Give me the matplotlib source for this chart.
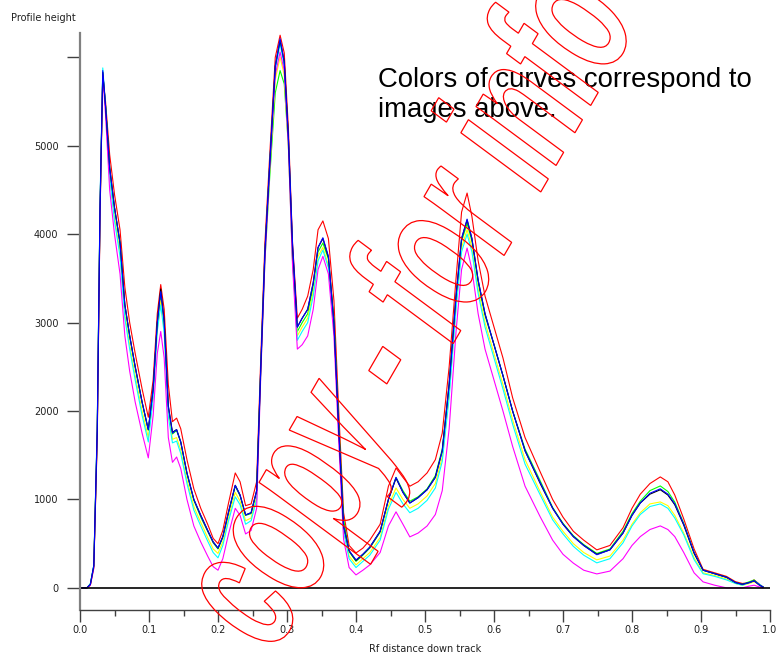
import matplotlib
matplotlib.use('Agg')
import matplotlib.pyplot as plt
from matplotlib.textpath import TextPath
from matplotlib.patches import PathPatch
from matplotlib.font_manager import FontProperties
from matplotlib.transforms import Affine2D
from matplotlib.ticker import MultipleLocator

# Rf positions shared by all profiles
rf = [0.000, 0.010, 0.015, 0.020, 0.025, 0.029, 0.033, 0.037, 0.043, 0.050,
      0.058, 0.065, 0.072, 0.080, 0.090, 0.099, 0.106, 0.112, 0.117, 0.122,
      0.128, 0.134, 0.140, 0.146, 0.155, 0.165, 0.175, 0.185, 0.193, 0.200,
      0.207, 0.215, 0.225, 0.232, 0.240, 0.248, 0.256, 0.262, 0.268, 0.275,
      0.283, 0.290, 0.296, 0.302, 0.308, 0.315, 0.322, 0.330, 0.338, 0.345,
      0.352, 0.360, 0.368, 0.375, 0.382, 0.390, 0.400, 0.410, 0.420, 0.435,
      0.447, 0.458, 0.468, 0.478, 0.490, 0.503, 0.515, 0.525, 0.535, 0.545,
      0.553, 0.561, 0.568, 0.577, 0.587, 0.600, 0.613, 0.627, 0.645, 0.667,
      0.685, 0.700, 0.715, 0.730, 0.749, 0.768, 0.787, 0.800, 0.812, 0.826,
      0.841, 0.852, 0.862, 0.875, 0.890, 0.903, 0.920, 0.937, 0.950, 0.960,
      0.970, 0.977, 0.985, 0.990]

red = [0, 0, 30, 230, 1700, 4200, 5800, 5500, 4900, 4450,
       4050, 3400, 3000, 2650, 2250, 1930, 2350, 3100, 3430, 3150,
       2300, 1880, 1920, 1800, 1450, 1120, 900, 720, 560, 500,
       650, 950, 1300, 1200, 930, 950, 1200, 2600, 3900, 4900,
       6000, 6250, 6050, 5200, 3900, 3050, 3150, 3300, 3600, 4050,
       4150, 3950, 3250, 2000, 850, 480, 395, 450, 540, 720,
       1150, 1356, 1250, 1150, 1200, 1300, 1450, 1750, 2500, 3500,
       4250, 4465, 4200, 3700, 3300, 2950, 2600, 2150, 1700, 1311,
       1000, 800, 640, 540, 430, 480, 680, 900, 1060, 1180,
       1255, 1200, 1050, 780, 440, 210, 170, 130, 70, 50,
       60, 90, 40, 10]

green = [0, 0, 40, 240, 1750, 4250, 5820, 5450, 4750, 4300,
         3900, 3200, 2850, 2500, 2100, 1780, 2230, 2980, 3320, 2980,
         2030, 1740, 1780, 1650, 1290, 990, 800, 640, 510, 440,
         570, 840, 1150, 1040, 820, 840, 1080, 2450, 3700, 4650,
         5600, 5850, 5700, 5000, 3700, 2900, 3000, 3100, 3400, 3800,
         3900, 3720, 3050, 1850, 780, 410, 300, 370, 450, 630,
         1000, 1250, 1100, 980, 1030, 1120, 1270, 1570, 2300, 3280,
         3920, 4120, 3920, 3450, 3080, 2750, 2400, 2000, 1570, 1210,
         910, 730, 590, 490, 390, 440, 640, 840, 980, 1100,
         1153, 1090, 970, 730, 400, 200, 160, 120, 60, 40,
         70, 90, 30, 10]

yellow = [0, 0, 40, 240, 1750, 4250, 5830, 5400, 4650, 4200,
          3800, 3100, 2750, 2400, 2000, 1700, 2180, 2930, 3250, 2920,
          1980, 1680, 1700, 1560, 1220, 920, 740, 570, 440, 390,
          520, 790, 1080, 980, 760, 790, 1030, 2450, 3750, 4750,
          5750, 6000, 5800, 5000, 3750, 2850, 2950, 3050, 3350, 3750,
          3850, 3650, 2950, 1750, 650, 360, 260, 330, 400, 570,
          930, 1130, 1000, 900, 950, 1040, 1180, 1480, 2200, 3200,
          3850, 4050, 3850, 3380, 3000, 2650, 2300, 1900, 1450, 1085,
          800, 640, 500, 400, 317, 360, 540, 720, 850, 950,
          972, 930, 820, 620, 340, 170, 140, 100, 50, 30,
          50, 70, 30, 10]

cyan = [0, 0, 50, 260, 1850, 4350, 5880, 5450, 4650, 4150,
        3750, 3050, 2700, 2350, 1950, 1650, 2150, 2900, 3200, 2880,
        1940, 1640, 1660, 1520, 1180, 880, 700, 530, 400, 340,
        480, 750, 1030, 940, 720, 760, 1000, 2450, 3750, 4800,
        5850, 6150, 5900, 5050, 3750, 2800, 2900, 3000, 3300, 3700,
        3820, 3620, 2950, 1750, 640, 330, 230, 300, 370, 540,
        890, 1080, 950, 850, 900, 990, 1130, 1430, 2150, 3150,
        3800, 4000, 3800, 3330, 2950, 2600, 2250, 1850, 1400, 1051,
        770, 610, 470, 370, 283, 330, 510, 700, 830, 920,
        950, 900, 790, 600, 320, 160, 130, 90, 50, 30,
        60, 80, 40, 10]

magenta = [0, 0, 30, 220, 1700, 4200, 5800, 5350, 4500, 4000,
           3550, 2850, 2450, 2100, 1750, 1470, 1950, 2650, 2900, 2600,
           1700, 1420, 1480, 1350, 1000, 700, 520, 360, 240, 200,
           330, 600, 900, 820, 610, 650, 900, 2400, 3700, 4750,
           5800, 6060, 5850, 5000, 3650, 2700, 2750, 2850, 3150, 3600,
           3750, 3550, 2850, 1650, 550, 230, 147, 200, 260, 400,
           700, 860, 720, 577, 620, 700, 830, 1100, 1800, 2900,
           3600, 3843, 3600, 3100, 2700, 2350, 2000, 1600, 1150, 803,
           540, 380, 280, 200, 158, 190, 330, 480, 580, 660,
           701, 660, 580, 400, 170, 68, 30, 0, 0, 0,
           20, 30, 10, 0]

black = [0, 0, 40, 250, 1780, 4280, 5830, 5450, 4750, 4300,
         3900, 3200, 2850, 2500, 2100, 1790, 2250, 3000, 3380, 3020,
         2060, 1760, 1790, 1650, 1300, 1000, 820, 650, 520, 450,
         580, 850, 1160, 1050, 825, 850, 1100, 2500, 3800, 4800,
         5900, 6190, 5950, 5100, 3850, 2950, 3050, 3150, 3450, 3850,
         3950, 3740, 3000, 1800, 700, 420, 310, 380, 460, 640,
         1000, 1240, 1080, 960, 1020, 1110, 1250, 1550, 2300, 3300,
         3950, 4160, 3950, 3480, 3100, 2750, 2400, 2000, 1550, 1180,
         900, 720, 580, 480, 380, 430, 620, 820, 960, 1060,
         1110, 1050, 940, 710, 390, 200, 160, 120, 60, 40,
         60, 80, 30, 10]

blue = [0, 0, 40, 250, 1800, 4300, 5850, 5450, 4750, 4300,
        3900, 3200, 2850, 2500, 2100, 1790, 2250, 3000, 3350, 3000,
        2050, 1750, 1790, 1650, 1300, 1000, 820, 650, 520, 450,
        580, 850, 1160, 1050, 825, 850, 1100, 2500, 3800, 4800,
        5900, 6210, 5950, 5100, 3900, 2950, 3050, 3150, 3450, 3850,
        3960, 3750, 3000, 1800, 700, 420, 316, 380, 460, 640,
        1000, 1250, 1080, 960, 1020, 1110, 1250, 1550, 2300, 3300,
        3950, 4170, 3950, 3480, 3100, 2750, 2400, 2000, 1550, 1190,
        900, 720, 580, 480, 375, 430, 620, 820, 960, 1070,
        1120, 1060, 950, 720, 400, 200, 160, 120, 60, 40,
        60, 80, 30, 10]

profiles = [('#ff0000', red), ('#00ff00', green), ('#ffff00', yellow),
            ('#00ffff', cyan), ('#ff00ff', magenta), ('#000000', black),
            ('#0000ff', blue)]

fig = plt.figure(figsize=(7.8, 6.56), dpi=100)
ax = fig.add_axes([80 / 780, 46 / 656, 690 / 780, 577 / 656])

for color, vals in profiles:
    ax.plot(rf, vals, color=color, linewidth=0.8)

ax.axhline(0, color='black', linewidth=1.2)

ax.set_xlim(0, 1.0)
ax.set_ylim(-250, 6275)
ax.xaxis.set_major_locator(MultipleLocator(0.1))
ax.xaxis.set_minor_locator(MultipleLocator(0.05))
ax.set_yticks([0, 1000, 2000, 3000, 4000, 5000, 6000])
ax.set_yticklabels(['0', '1000', '2000', '3000', '4000', '5000', ''])
ax.set_xticklabels([f'{v:.1f}' for v in ax.get_xticks()])

for side in ['top', 'right']:
    ax.spines[side].set_visible(False)
ax.spines['left'].set_color('#808080')
ax.spines['left'].set_linewidth(1.6)
ax.spines['bottom'].set_color('#404040')
ax.spines['bottom'].set_linewidth(1.0)

ax.tick_params(axis='y', direction='out', length=9.5, width=1.0,
               color='#404040', labelsize=7, labelcolor='#202020', pad=6)
ax.tick_params(axis='x', which='major', direction='out', length=8.5,
               width=1.0, color='#404040', labelsize=7,
               labelcolor='#202020', pad=2)
ax.tick_params(axis='x', which='minor', direction='out', length=4,
               width=1.0, color='#404040')
ax.yaxis.get_major_ticks()[0].tick1line.set_color('black')

fig.text(11 / 780, 1 - 18 / 656, 'Profile height', fontsize=7,
         color='#202020', va='center', ha='left')
fig.text(425 / 780, 1 - 649 / 656, 'Rf distance down track', fontsize=7,
         color='#202020', va='center', ha='center')

fig.text(378 / 780, 1 - 86.7 / 656, 'Colors of curves correspond to',
         family='Liberation Sans', fontsize=19.8, va='baseline', ha='left')
fig.text(378 / 780, 1 - 117.3 / 656, 'images above.',
         family='Liberation Sans', fontsize=19.8, va='baseline', ha='left')

# outlined watermark, tall narrow letters
wm_font = FontProperties(family='Liberation Sans', weight='bold', style='italic')
wm_path = TextPath((0, 0), 'copy - for info', size=110, prop=wm_font)
wm_tr = Affine2D().scale(1.0, 1.7).rotate_deg(60).translate(274, 2)
wm = PathPatch(wm_path, facecolor='none', edgecolor='#ff0000',
               linewidth=0.9, transform=wm_tr, zorder=10)
fig.add_artist(wm)

fig.savefig('out.png', dpi=100)
